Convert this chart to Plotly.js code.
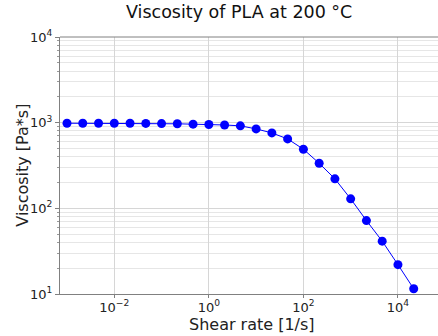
<!DOCTYPE html>
<html><head><meta charset="utf-8">
<script src="https://cdn.plot.ly/plotly-3.0.1.min.js"></script>
<style>html,body{margin:0;padding:0;overflow:hidden;background:#fff}</style>
</head><body><div id="chart"></div>
<script>
const shearRate = [1e-3, 2.154e-3, 4.642e-3, 1e-2, 2.154e-2, 4.642e-2, 1e-1, 2.154e-1, 4.642e-1, 1, 2.154, 4.642, 10, 21.54, 46.42, 100, 215.4, 464.2, 1000, 2154, 4642, 10000, 21544];
const viscosity = [985, 985, 985, 985, 984, 980, 975, 970, 960, 953, 940, 918, 846, 759, 646, 490, 336, 221, 129, 72, 41.4, 22, 11.5];
const xTickVals = [1e-2, 1, 1e2, 1e4];
const xTickText = ["10<sup>−2</sup>", "10<sup>0</sup>", "10<sup>2</sup>", "10<sup>4</sup>"];
const yTickVals = [10, 100, 1000, 10000];
const yTickText = ["10<sup>1</sup>", "10<sup>2</sup>", "10<sup>3</sup>", "10<sup>4</sup>"];
const titleText = "Viscosity of PLA at 200 °C";
const xLabel = "Shear rate [1/s]";
const yLabel = "Viscosity [Pa*s]";

const trace = {
  x: shearRate, y: viscosity, type: 'scatter', mode: 'lines+markers',
  line: {color: '#0000ff', width: 1},
  marker: {color: '#0000ff', size: 9}
};
const axisFont = {family: 'DejaVu Sans', size: 13, color: '#222'};
const labelFont = {family: 'DejaVu Sans', size: 16, color: '#222'};
const layout = {
  width: 438, height: 336,
  margin: {l: 60, r: 0, t: 37, b: 42},
  paper_bgcolor: '#fff', plot_bgcolor: '#fff',
  showlegend: false,
  font: {family: 'DejaVu Sans', color: '#222'},
  title: {text: titleText, font: {family: 'DejaVu Sans', size: 17.5, color: '#111'},
          x: 0.546, xanchor: 'center', y: 0.965, yanchor: 'middle', yref: 'container'},
  xaxis: {
    type: 'log', range: [-3.148, 4.847],
    tickmode: 'array', tickvals: xTickVals, ticktext: xTickText,
    showgrid: true, gridcolor: '#d6d6d6', gridwidth: 1,
    showline: true, linecolor: '#808080', linewidth: 1,
    ticks: 'outside', ticklen: 3, tickcolor: '#808080',
    ticklabelstandoff: -2,
    tickfont: axisFont, zeroline: false
  },
  yaxis: {
    type: 'log', range: [1, 4],
    tickmode: 'array', tickvals: yTickVals, ticktext: yTickText,
    showgrid: true, gridcolor: '#d6d6d6', gridwidth: 1,
    showline: true, linecolor: '#808080', linewidth: 1,
    ticks: 'outside', ticklen: 4, tickcolor: '#808080',
    tickfont: axisFont, zeroline: false,
    minor: {dtick: 'D1', showgrid: true, gridcolor: '#e6e6e6', ticks: 'outside', ticklen: 2, tickcolor: '#999'}
  },
  annotations: [
    {text: xLabel, xref: 'paper', yref: 'paper', x: 0.508, y: -0.12, xanchor: 'center', yanchor: 'middle',
     showarrow: false, font: labelFont},
    {text: yLabel, xref: 'paper', yref: 'paper', x: -0.1, y: 0.5, xanchor: 'center', yanchor: 'middle',
     textangle: -90, showarrow: false, font: labelFont}
  ],
  shapes: [{type: 'line', xref: 'paper', yref: 'paper', x0: 0, x1: 1, y0: 1, y1: 1,
            line: {color: '#808080', width: 1}}]
};
Plotly.newPlot('chart', [trace], layout, {displayModeBar: false, staticPlot: true});
</script></body></html>
